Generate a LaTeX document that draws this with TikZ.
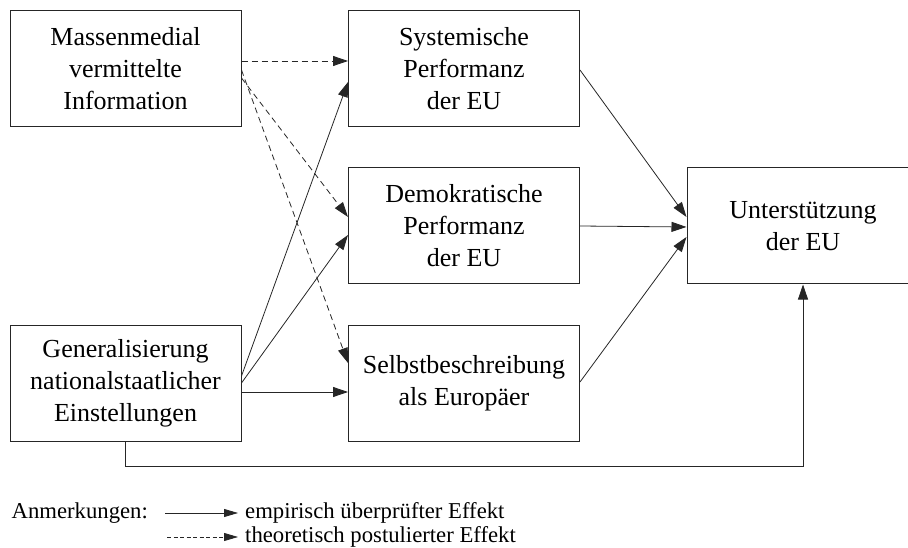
\documentclass[tikz,border=0pt]{standalone}
\usepackage{fontspec}
\setmainfont{Liberation Serif}
\usetikzlibrary{arrows.meta,calc}
\begin{document}
\begin{tikzpicture}[x=1pt,y=-1pt,
  box/.style={draw=black!85, line width=1pt, minimum width=231pt, minimum height=116pt,
    inner sep=0pt, align=center, font=\fontsize{26}{32}\selectfont},
  conn/.style={line width=0.8pt, draw=black!85, -{Triangle[length=15pt,width=10pt]}},
  theo/.style={conn, dash pattern=on 6pt off 4pt},
  legtext/.style={anchor=base west, inner sep=0pt, font=\fontsize{22.7}{25}\selectfont},
  legarrow/.style={line width=0.8pt, draw=black!85, -{Triangle[length=14pt,width=8pt]}},
  ]
\useasboundingbox (0,0) rectangle (908,548);
\clip (0,0) rectangle (908,548);

\node[box] (A) at (125.5,69) {Massenmedial\\vermittelte\\Information};
\node[box] (B) at (464,69) {Systemische\\Performanz\\der EU};
\node[box] (C) at (464,226) {Demokratische\\Performanz\\der EU};
\node[box] (D) at (464,383) {Selbstbeschreibung\\als Europäer};
\node[box] (E) at (125.5,383) {Generalisierung\\nationalstaatlicher\\Einstellungen};
\node[box, minimum width=232pt] (F) at (803,226) {Unterstützung\\der EU};

% theoretical (dashed) effects
\draw[theo] ($(A.east)+(0,-8)$) -- ($(B.west)+(0,-8)$);
\draw[theo] ($(A.east)+(0,9)$) -- ($(C.west)+(0,-9)$);
\draw[theo] ($(A.east)+(0,1)$) -- ($(D.west)+(0,-20)$);

% empirical effects
\draw[conn] ($(E.east)+(0,-7)$) -- ($(B.west)+(0,13)$);
\draw[conn] (E.east) -- ($(C.west)+(0,9)$);
\draw[conn] ($(E.east)+(0,9)$) -- ($(D.west)+(0,9)$);
\draw[conn] ($(B.east)+(0,1)$) -- ($(F.west)+(0,-9)$);
\draw[conn] (C.east) -- ($(F.west)+(0,1)$);
\draw[conn] ($(D.east)+(0,-1)$) -- ($(F.west)+(0,11)$);
\draw[conn] (E.south) -- ++(0,25) -| (F.south);

% legend
\node[legtext] (anm) at (11.5,518) {Anmerkungen:};
\node[legtext] (emp) at (245,518) {empirisch überprüfter Effekt};
\node[legtext] (the) at (245,542) {theoretisch postulierter Effekt};
\coordinate (l1a) at (165,513);
\coordinate (l1b) at (238,513);
\coordinate (l2a) at (167,537);
\coordinate (l2b) at (238,537);
\draw[legarrow] (l1a) -- (l1b);
\draw[legarrow, dash pattern=on 4pt off 2.5pt] (l2a) -- (l2b);
\end{tikzpicture}
\end{document}
